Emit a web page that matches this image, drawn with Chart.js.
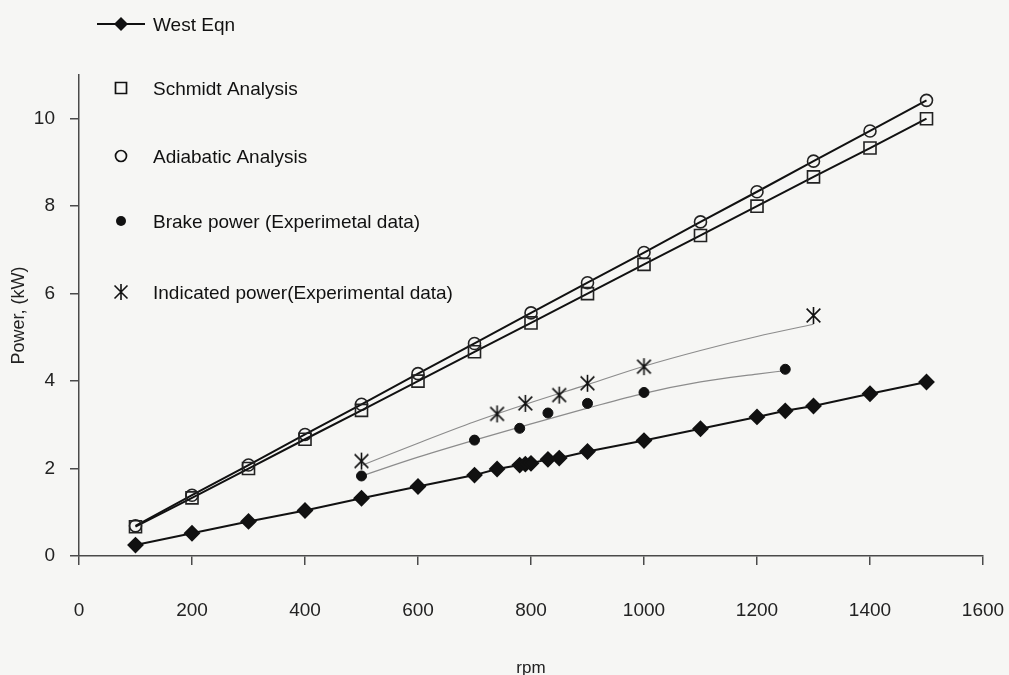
<!DOCTYPE html>
<html lang="en">
<head>
  <meta charset="UTF-8">
  <title>Power vs rpm</title>
  <script src="https://cdn.jsdelivr.net/npm/chart.js"></script>
  <style>
    body {
      margin: 0;
      padding: 0;
      background-color: #f6f6f4;
    }
    .chart-box {
      width: 1009px;
      height: 675px;
      position: relative;
    }
  </style>
</head>
<body>
  <div class="chart-box">
    <canvas id="powerChart"></canvas>
  </div>

  <script>
    // values
    const theoryRpm = [100, 200, 300, 400, 500, 600, 700, 800, 900, 1000, 1100, 1200, 1300, 1400, 1500];
    const schmidtPower = [0.67, 1.33, 2.0, 2.67, 3.33, 4.0, 4.67, 5.33, 6.0, 6.67, 7.33, 8.0, 8.67, 9.33, 10.0];
    const adiabaticPower = [0.69, 1.39, 2.08, 2.78, 3.47, 4.17, 4.86, 5.56, 6.25, 6.94, 7.64, 8.33, 9.03, 9.72, 10.42];

    const westRpm = [100, 200, 300, 400, 500, 600, 700, 740, 780, 790, 800, 830, 850, 900, 1000, 1100, 1200, 1250, 1300, 1400, 1500];
    const westPower = [0.25, 0.52, 0.79, 1.04, 1.32, 1.59, 1.85, 1.99, 2.08, 2.10, 2.12, 2.21, 2.24, 2.39, 2.64, 2.91, 3.18, 3.32, 3.43, 3.71, 3.98];

    const brakeRpm = [500, 700, 780, 830, 900, 1000, 1250];
    const brakePower = [1.83, 2.65, 2.92, 3.27, 3.49, 3.74, 4.27];
    const indicatedRpm = [500, 740, 790, 850, 900, 1000, 1300];
    const indicatedPower = [2.17, 3.25, 3.49, 3.68, 3.95, 4.33, 5.50];

    // thin grey trend curves through the experimental points
    const brakeFitRpm = [500, 600, 700, 800, 900, 1000, 1100, 1200, 1250];
    const brakeFit = [1.83, 2.26, 2.65, 3.02, 3.38, 3.72, 3.98, 4.16, 4.24];
    const indicatedFitRpm = [500, 600, 700, 800, 900, 1000, 1100, 1200, 1300];
    const indicatedFit = [2.07, 2.58, 3.07, 3.51, 3.92, 4.34, 4.70, 5.02, 5.30];

    const xTicks = [0, 200, 400, 600, 800, 1000, 1200, 1400, 1600];
    const yTicks = [0, 2, 4, 6, 8, 10];

    const FONT = "'Liberation Sans', Arial, sans-serif";
    const INK = '#111';

    function pts(xs, ys) {
      return xs.map((x, i) => ({ x: x, y: ys[i] }));
    }

    // asterisk marker: X plus a vertical stroke
    function makeStar(size) {
      const c = document.createElement('canvas');
      c.width = size;
      c.height = size;
      const g = c.getContext('2d');
      const m = size / 2;
      const d = size * 0.36;
      g.strokeStyle = INK;
      g.lineWidth = 1.6;
      g.beginPath();
      g.moveTo(m - d, m - d); g.lineTo(m + d, m + d);
      g.moveTo(m + d, m - d); g.lineTo(m - d, m + d);
      g.moveTo(m, 1); g.lineTo(m, size - 1);
      g.stroke();
      return c;
    }
    const starPlot = makeStar(19);
    const starLegend = makeStar(18);

    function drawMarker(ctx, kind, x, y) {
      ctx.save();
      ctx.strokeStyle = INK;
      ctx.fillStyle = INK;
      ctx.lineWidth = 1.7;
      ctx.beginPath();
      if (kind === 'diamond') {
        ctx.moveTo(x, y - 7); ctx.lineTo(x + 7, y); ctx.lineTo(x, y + 7); ctx.lineTo(x - 7, y);
        ctx.closePath();
        ctx.fill();
      } else if (kind === 'square') {
        ctx.rect(x - 5.5, y - 5.5, 11, 11);
        ctx.stroke();
      } else if (kind === 'circle') {
        ctx.arc(x, y, 5.5, 0, Math.PI * 2);
        ctx.stroke();
      } else if (kind === 'dot') {
        ctx.arc(x, y, 5, 0, Math.PI * 2);
        ctx.fill();
      } else if (kind === 'star') {
        ctx.drawImage(starLegend, x - 9, y - 9);
      }
      ctx.restore();
    }

    // the legend sits in a column over the upper left of the plot
    const legendColumn = {
      id: 'legendColumn',
      afterDraw(chart) {
        const ctx = chart.ctx;
        const rows = [
          { ds: 0, kind: 'diamond', y: 24, line: true },
          { ds: 1, kind: 'square', y: 88 },
          { ds: 2, kind: 'circle', y: 156 },
          { ds: 3, kind: 'dot', y: 221 },
          { ds: 4, kind: 'star', y: 292 }
        ];
        ctx.save();
        ctx.font = '19px ' + FONT;
        ctx.textBaseline = 'middle';
        ctx.fillStyle = INK;
        rows.forEach(r => {
          if (r.line) {
            ctx.strokeStyle = INK;
            ctx.lineWidth = 2;
            ctx.beginPath();
            ctx.moveTo(97, r.y);
            ctx.lineTo(145, r.y);
            ctx.stroke();
          }
          drawMarker(ctx, r.kind, 121, r.y);
          ctx.fillText(chart.data.datasets[r.ds].label, 153, r.y + 2);
        });
        ctx.restore();
      }
    };

    const chart = new Chart(document.getElementById('powerChart'), {
      type: 'scatter',
      data: {
        datasets: [
          {
            label: 'West Eqn',
            data: pts(westRpm, westPower),
            showLine: true,
            borderColor: INK,
            borderWidth: 2,
            pointStyle: 'rectRot',
            pointRadius: 7,
            backgroundColor: INK,
            pointBorderColor: INK
          },
          {
            label: 'Schmidt Analysis',
            data: pts(theoryRpm, schmidtPower),
            showLine: true,
            borderColor: INK,
            borderWidth: 2,
            pointStyle: 'rect',
            pointRadius: 8.5,
            pointBorderWidth: 1.6,
            backgroundColor: 'rgba(0,0,0,0)',
            pointBorderColor: '#222'
          },
          {
            label: 'Adiabatic Analysis',
            data: pts(theoryRpm, adiabaticPower),
            showLine: true,
            borderColor: INK,
            borderWidth: 2,
            pointStyle: 'circle',
            pointRadius: 6,
            pointBorderWidth: 1.6,
            backgroundColor: 'rgba(0,0,0,0)',
            pointBorderColor: '#222'
          },
          {
            label: 'Brake power (Experimetal data)',
            data: pts(brakeRpm, brakePower),
            showLine: false,
            pointStyle: 'circle',
            pointRadius: 5,
            backgroundColor: INK,
            pointBorderColor: INK
          },
          {
            label: 'Indicated power(Experimental data)',
            data: pts(indicatedRpm, indicatedPower),
            showLine: false,
            pointStyle: starPlot
          },
          {
            label: 'brake trend',
            data: pts(brakeFitRpm, brakeFit),
            showLine: true,
            borderColor: '#8c8c8c',
            borderWidth: 1.2,
            pointRadius: 0,
            cubicInterpolationMode: 'monotone'
          },
          {
            label: 'indicated trend',
            data: pts(indicatedFitRpm, indicatedFit),
            showLine: true,
            borderColor: '#8c8c8c',
            borderWidth: 1.2,
            pointRadius: 0,
            cubicInterpolationMode: 'monotone'
          }
        ]
      },
      options: {
        responsive: true,
        maintainAspectRatio: false,
        animation: false,
        layout: {
          padding: { top: 75, right: 26, left: 0, bottom: 0 }
        },
        plugins: {
          legend: { display: false },
          tooltip: { enabled: false }
        },
        scales: {
          x: {
            type: 'linear',
            min: 0,
            max: 1600,
            afterFit(scale) {
              scale.height = 119;
              scale.paddingLeft = 0;
              scale.paddingRight = 0;
            },
            afterBuildTicks(scale) { scale.ticks = xTicks.map(v => ({ value: v })); },
            border: { color: '#4a4a4a', width: 1.5 },
            grid: { drawOnChartArea: false, drawTicks: true, tickLength: 9, color: '#4a4a4a', lineWidth: 1.5 },
            ticks: {
              color: '#222',
              font: { family: FONT, size: 19 },
              padding: 34,
              maxRotation: 0,
              callback: v => String(v)
            },
            title: { display: true, text: 'rpm', color: '#222', font: { family: FONT, size: 17 }, padding: { top: 0, bottom: -4 } }
          },
          y: {
            type: 'linear',
            min: 0,
            max: 11,
            afterFit(scale) {
              scale.width = 79;
              scale.paddingTop = 0;
              scale.paddingBottom = 0;
            },
            afterBuildTicks(scale) { scale.ticks = yTicks.map(v => ({ value: v })); },
            border: { color: '#4a4a4a', width: 1.5 },
            grid: { drawOnChartArea: false, drawTicks: true, tickLength: 9, color: '#4a4a4a', lineWidth: 1.5 },
            ticks: { color: '#222', font: { family: FONT, size: 19 }, padding: 15, callback: v => String(v) },
            title: { display: true, text: 'Power, (kW)', color: '#222', font: { family: FONT, size: 18 }, padding: { top: 8, bottom: 0 } }
          }
        }
      },
      plugins: [legendColumn]
    });
  </script>
</body>
</html>
